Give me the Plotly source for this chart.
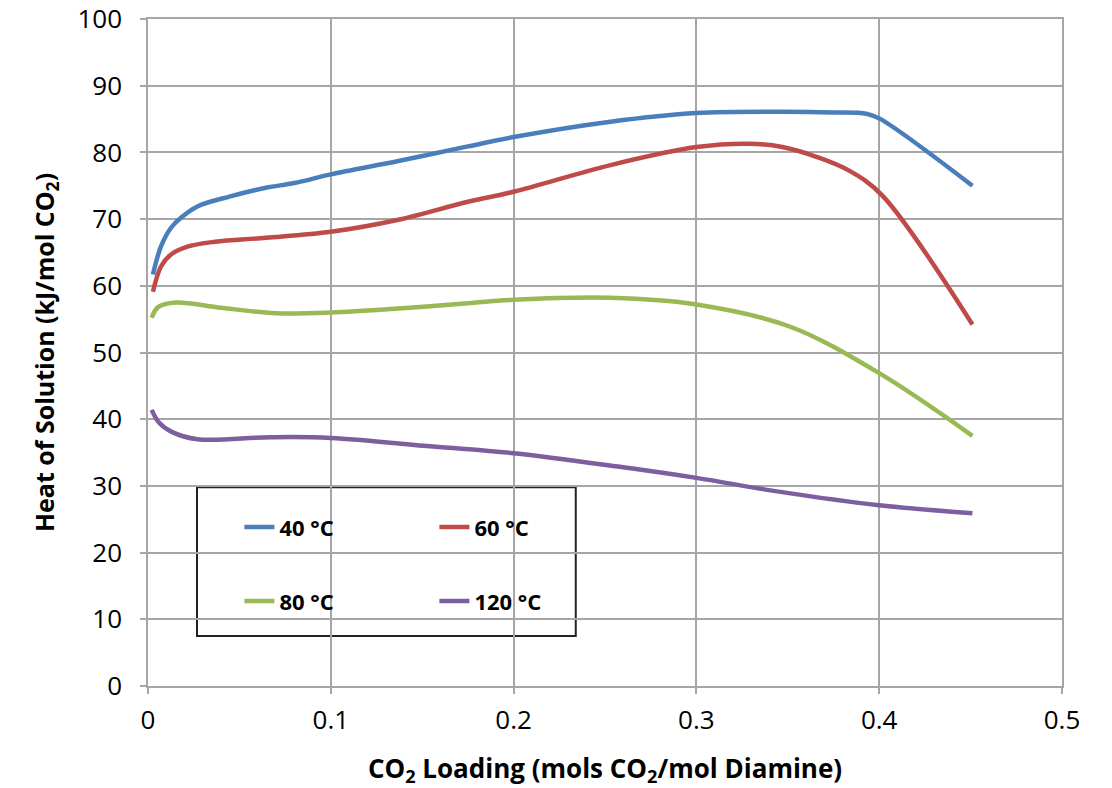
import plotly.graph_objects as go

# Data
x_40 = [0.0027, 0.0071, 0.0126, 0.018, 0.027, 0.045, 0.0645, 0.08, 0.1, 0.137, 0.175, 0.2, 0.253, 0.3, 0.346, 0.375, 0.393, 0.4, 0.451]
y_40 = [61.7, 65.9, 68.7, 70.2, 71.9, 73.4, 74.7, 75.4, 76.7, 78.7, 80.9, 82.3, 84.6, 85.9, 86.1, 86.0, 85.8, 85.1, 75.0]

x_60 = [0.0027, 0.0071, 0.0126, 0.022, 0.0366, 0.0645, 0.1, 0.137, 0.175, 0.2, 0.253, 0.3, 0.329, 0.347, 0.366, 0.384, 0.4015, 0.451]
y_60 = [59.1, 62.9, 64.7, 65.9, 66.6, 67.2, 68.1, 69.9, 72.6, 74.1, 78.1, 80.8, 81.3, 80.8, 79.3, 77.2, 73.6, 54.2]

x_80 = [0.002, 0.0055, 0.015, 0.04, 0.07, 0.1, 0.137, 0.175, 0.2, 0.253, 0.3, 0.351, 0.4, 0.451]
y_80 = [55.2, 56.8, 57.5, 56.7, 55.9, 56.0, 56.6, 57.4, 57.9, 58.2, 57.2, 53.9, 46.9, 37.5]

x_120 = [0.002, 0.006, 0.013, 0.027, 0.067, 0.1, 0.156, 0.2, 0.257, 0.3, 0.346, 0.4, 0.451]
y_120 = [41.4, 39.5, 38.1, 37.0, 37.3, 37.2, 35.9, 34.9, 32.9, 31.2, 29.1, 27.1, 25.9]

names = ["40 °C", "60 °C", "80 °C", "120 °C"]
colors = ["#4A7EBB", "#BE4B48", "#98B954", "#7D5FA0"]
legends = ["legend", "legend", "legend2", "legend2"]
xs = [x_40, x_60, x_80, x_120]
ys = [y_40, y_60, y_80, y_120]

x_ticks = [0, 0.1, 0.2, 0.3, 0.4, 0.5]
x_ticklabels = ["0", "0.1", "0.2", "0.3", "0.4", "0.5"]
y_ticks = list(range(0, 101, 10))

fig = go.Figure()
for x, y, n, c, lg in zip(xs, ys, names, colors, legends):
    fig.add_trace(go.Scatter(x=x, y=y, name=n, mode="lines",
                             line=dict(color=c, width=4.5, shape="spline", smoothing=1.0),
                             legend=lg))

grid = "#a6a6a6"
font_family = "Open Sans, Liberation Sans, sans-serif"

legend_common = dict(orientation="h", xanchor="left", yanchor="middle",
                     bgcolor="rgba(0,0,0,0)", entrywidth=150, entrywidthmode="pixels",
                     font=dict(size=22, family=font_family, weight="bold"),
                     traceorder="normal")

fig.update_layout(
    width=1112, height=788,
    margin=dict(l=148, r=50, t=19, b=102, autoexpand=False),
    paper_bgcolor="white", plot_bgcolor="white",
    font=dict(family=font_family, color="#000000"),
    xaxis=dict(range=[0, 0.5], tickvals=x_ticks, ticktext=x_ticklabels,
               showgrid=True, gridcolor=grid, gridwidth=1.5,
               showline=True, linecolor=grid, linewidth=1.5, mirror=True,
               ticks="outside", ticklen=6, tickcolor=grid, tickwidth=1.5,
               ticklabelstandoff=4,
               tickfont=dict(size=26, color="#000000"),
               title=dict(text="<b>CO<sub>2</sub> Loading (mols CO<sub>2</sub>/mol Diamine)</b>",
                          font=dict(size=26), standoff=24),
               zeroline=False, automargin=False),
    yaxis=dict(range=[0, 100], tickvals=y_ticks,
               showgrid=True, gridcolor=grid, gridwidth=1.5,
               showline=True, linecolor=grid, linewidth=1.5, mirror=True,
               ticks="outside", ticklen=6, tickcolor=grid, tickwidth=1.5,
               ticklabelstandoff=13,
               tickfont=dict(size=26, color="#000000"),
               title=dict(text="<b>Heat of Solution (kJ/mol CO<sub>2</sub>)</b>",
                          font=dict(size=25), standoff=16),
               zeroline=False, automargin=False),
    legend=dict(x=0.100, y=0.238, **legend_common),
    legend2=dict(x=0.100, y=0.127, **legend_common),
    shapes=[dict(type="rect", xref="paper", yref="paper",
                 x0=0.0536, x1=0.468, y0=0.075, y1=0.298,
                 fillcolor="white", line=dict(color="#222222", width=2), layer="between")],
)

fig.write_html("out.html")
